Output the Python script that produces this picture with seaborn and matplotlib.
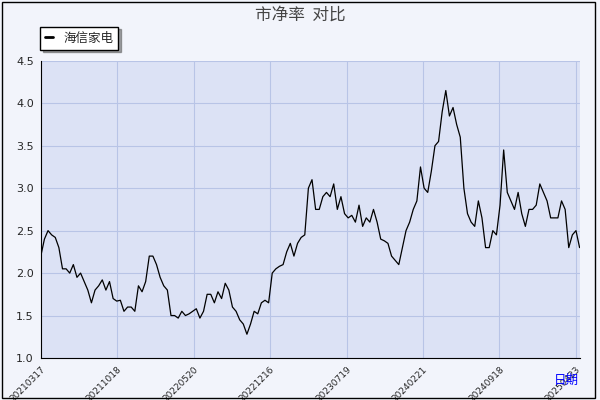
import matplotlib
matplotlib.use("Agg")
import matplotlib.pyplot as plt
import seaborn as sns
from matplotlib.patches import Rectangle

# 市净率 (PB) 读图估值，大约等间隔
pb = [2.2, 2.4, 2.5, 2.45, 2.42, 2.3, 2.05, 2.05, 2.0, 2.1, 1.95, 2.0, 1.9, 1.8, 1.65,
      1.8, 1.85, 1.92, 1.8, 1.9, 1.7, 1.67, 1.68, 1.55, 1.6, 1.6, 1.55, 1.85, 1.78, 1.9,
      2.2, 2.2, 2.1, 1.95, 1.85, 1.8, 1.5, 1.5, 1.47, 1.55, 1.5, 1.52, 1.55, 1.58, 1.47,
      1.55, 1.75, 1.75, 1.65, 1.78, 1.7, 1.88, 1.8, 1.6, 1.55, 1.45, 1.4, 1.28, 1.4, 1.55,
      1.52, 1.65, 1.68, 1.65, 2.0, 2.05, 2.08, 2.1, 2.25, 2.35, 2.2, 2.35, 2.42, 2.45, 3.0,
      3.1, 2.75, 2.75, 2.9, 2.95, 2.9, 3.05, 2.75, 2.9, 2.7, 2.65, 2.68, 2.6, 2.8, 2.55,
      2.65, 2.6, 2.75, 2.6, 2.4, 2.38, 2.35, 2.2, 2.15, 2.1, 2.3, 2.5, 2.6, 2.75, 2.85,
      3.25, 3.0, 2.95, 3.2, 3.5, 3.55, 3.9, 4.15, 3.85, 3.95, 3.75, 3.6, 3.0, 2.7, 2.6,
      2.55, 2.85, 2.65, 2.3, 2.3, 2.5, 2.45, 2.8, 3.45, 2.95, 2.85, 2.75, 2.95, 2.7, 2.55,
      2.75, 2.75, 2.8, 3.05, 2.95, 2.85, 2.65, 2.65, 2.65, 2.85, 2.75, 2.3, 2.45, 2.5, 2.3]
tick_labels = ["20210317", "20211018", "20220520", "20221216", "20230719",
               "20240221", "20240918", "20250423"]

sns.set_style("whitegrid")
plt.rcParams["font.family"] = ["Noto Sans CJK SC", "DejaVu Sans"]

n = len(pb) - 1
tick_pos = [i * n * 200 / 1410 for i in range(len(tick_labels))]

fig = plt.figure(figsize=(6, 4), dpi=100, facecolor="#f2f4fb")
ax = fig.add_axes([0.068, 0.105, 0.898, 0.743])
ax.set_facecolor("#dce2f5")
sns.lineplot(x=list(range(len(pb))), y=pb, ax=ax, color="black", lw=0.9, label="海信家电")
ax.set_ylim(1.0, 4.5)
ax.set_xlim(0, n)
ax.set_yticks([1.0, 1.5, 2.0, 2.5, 3.0, 3.5, 4.0, 4.5])
ax.set_yticklabels([f"{v:.1f}" for v in ax.get_yticks()], fontsize=8, family="DejaVu Sans")
ax.set_xticks(tick_pos)
ax.set_xticklabels(tick_labels, rotation=45, ha="right", rotation_mode="anchor",
                   fontsize=6.5, family="DejaVu Sans")
ax.grid(color="#b8c4e6", lw=0.8)
for s in ["top", "right"]:
    ax.spines[s].set_visible(False)
for s in ["left", "bottom"]:
    ax.spines[s].set_color("black")
    ax.spines[s].set_linewidth(0.8)
ax.tick_params(axis="both", length=3, color="black", pad=2)
fig.text(0.5, 0.962, "市净率  对比", ha="center", va="center", fontsize=12, color="#444444")
fig.text(0.965, 0.05, "日期", ha="right", va="center", fontsize=9, color="blue")
leg = ax.legend(loc="upper left", bbox_to_anchor=(-0.002, 1.115), frameon=True, fontsize=9,
                handlelength=0.7, borderaxespad=0, fancybox=False, shadow=True)
leg.get_frame().set_edgecolor("black")
for line in leg.get_lines():
    line.set_linewidth(2)
fig.patches.append(Rectangle((0.003, 0.005), 0.988, 0.99, transform=fig.transFigure,
                             fill=False, edgecolor="black", lw=1))
fig.savefig("out.png", dpi=100, facecolor=fig.get_facecolor())
